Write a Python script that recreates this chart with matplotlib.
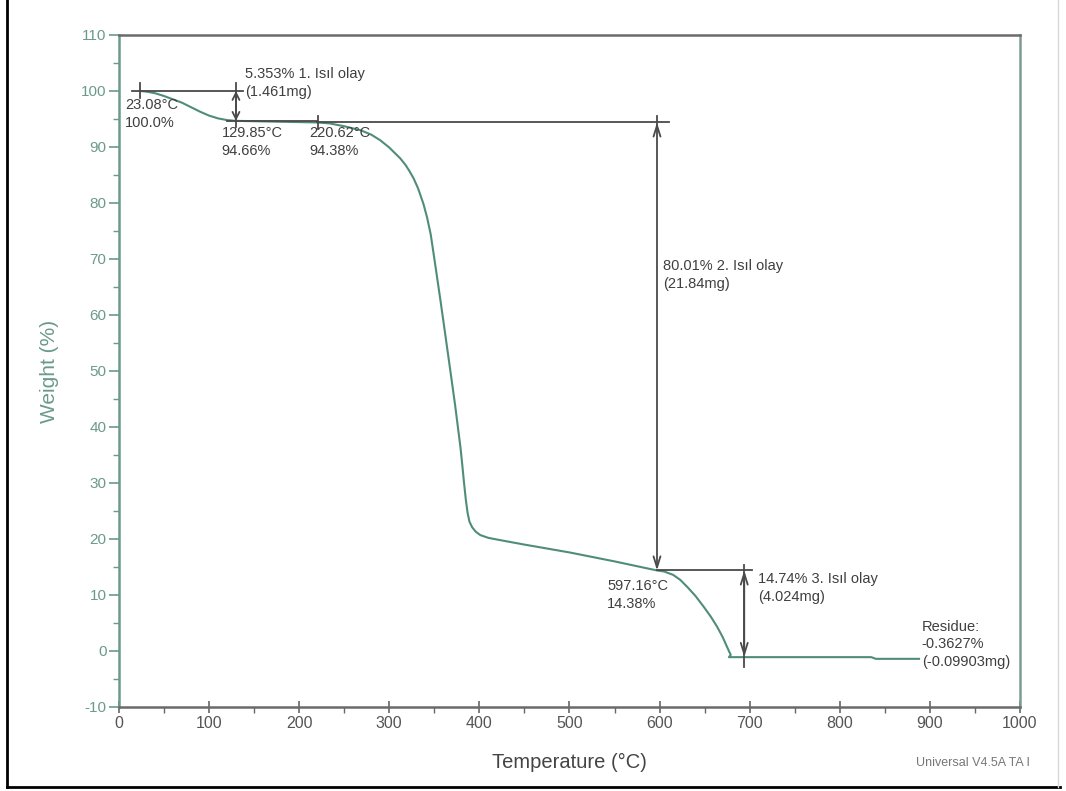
import matplotlib
matplotlib.use("Agg")
import matplotlib.pyplot as plt
from matplotlib.lines import Line2D
from matplotlib.ticker import MultipleLocator

plt.rcParams['font.family'] = ['Liberation Sans', 'DejaVu Sans']
plt.rcParams['axes.unicode_minus'] = False

# TGA curve (temperature in C, weight in %)
temp = [23.08, 30, 40, 50, 60, 70, 80, 90, 100, 110, 120, 129.85, 150, 180,
        220.62, 234, 250, 268, 280, 290, 300, 305, 312, 318, 322, 327, 332,
        338, 342, 346, 351, 357, 362, 368, 373, 379, 381, 383, 385, 387, 389,
        392, 396, 401, 410, 423, 450, 500, 550, 597.16, 605, 615, 623, 631,
        640, 649, 657, 664, 670, 675, 679, 677, 690, 760, 835, 840, 888]
weight = [100.0, 99.9, 99.6, 99.1, 98.5, 97.9, 97.1, 96.3, 95.6, 95.1, 94.8,
          94.66, 94.6, 94.5, 94.38, 94.2, 93.7, 93.0, 92.2, 91.2, 89.9, 89.1,
          88.0, 86.8, 85.8, 84.4, 82.6, 79.8, 77.4, 74.4, 69.0, 62.4, 56.7,
          49.8, 44.0, 36.4, 33.3, 30.0, 27.0, 24.6, 23.1, 22.1, 21.3, 20.7,
          20.2, 19.8, 19.0, 17.6, 16.0, 14.38, 14.2, 13.6, 12.7, 11.4, 9.8,
          7.9, 6.1, 4.3, 2.5, 0.7, -0.7, -1.1, -1.1, -1.1, -1.1, -1.4, -1.4]

# step analysis marks
onset_t = [23.08, 129.85, 220.62, 597.16]
onset_w = [100.0, 94.66, 94.38, 14.38]
residue_w = -1.07
step3_x = 694

labels_pt = ["23.08°C\n100.0%", "129.85°C\n94.66%", "220.62°C\n94.38%", "597.16°C\n14.38%"]
step_labels = ["5.353% 1. Isıl olay\n(1.461mg)",
               "80.01% 2. Isıl olay\n(21.84mg)",
               "14.74% 3. Isıl olay\n(4.024mg)"]
residue_label = "Residue:\n-0.3627%\n(-0.09903mg)"

curve_c = "#4f8d7a"
teal = "#6b9a8c"
mark_c = "#4a4a4a"
text_c = "#3f3f3f"

fig = plt.figure(figsize=(10.66, 7.91), dpi=100)
ax = fig.add_axes([0.1116, 0.1062, 0.8452, 0.8496])

ax.plot(temp, weight, color=curve_c, lw=1.5, zorder=3, solid_joinstyle='round')

ax.set_xlim(0, 1000)
ax.set_ylim(-10, 110)
ax.xaxis.set_major_locator(MultipleLocator(100))
ax.xaxis.set_minor_locator(MultipleLocator(50))
ax.yaxis.set_major_locator(MultipleLocator(10))
ax.yaxis.set_minor_locator(MultipleLocator(5))

ax.tick_params(axis='y', which='major', direction='out', length=7, width=1.2,
               color=teal, labelcolor=teal, labelsize=11, pad=2)
ax.tick_params(axis='y', which='minor', direction='out', length=4, width=1.0, color=teal)
ax.tick_params(axis='x', which='major', direction='inout', length=9, width=1.2,
               color="#666666", labelcolor="#555555", labelsize=11.5, pad=2)
ax.tick_params(axis='x', which='minor', direction='out', length=4, width=1.0, color="#666666")

for side in ['top', 'bottom', 'right']:
    ax.spines[side].set_color("#6a6a6a")
    ax.spines[side].set_linewidth(1.8)
ax.spines['left'].set_color(teal)
ax.spines['left'].set_linewidth(1.8)
ax.spines['right'].set_color("#7f9a92")

ax.set_xlabel("Temperature (°C)", fontsize=14.5, color="#444444", labelpad=16)
ax.set_ylabel("Weight (%)", fontsize=15, color=teal, labelpad=16)

lk = dict(color=mark_c, lw=1.3, zorder=4)

# step 1
ax.plot([14, 138], [onset_w[0], onset_w[0]], **lk)
ax.plot([onset_t[0], onset_t[0]], [98.8, 101.4], **lk)
ax.plot([onset_t[1], onset_t[1]], [93.6, 101.4], **lk)
ax.plot([120, 220], [onset_w[1], onset_w[1]], **lk)
ax.annotate("", xy=(onset_t[1], onset_w[1]), xytext=(onset_t[1], onset_w[0]),
            arrowprops=dict(arrowstyle="<->,head_length=0.5,head_width=0.25",
                            color=mark_c, lw=1.3, shrinkA=0, shrinkB=0), zorder=4)

# step 2
ax.plot([onset_t[2], onset_t[2]], [93.2, 95.6], **lk)
ax.plot([220, 610], [onset_w[2], onset_w[2]], **lk)
ax.plot([onset_t[3], onset_t[3]], [93.2, 95.6], **lk)
ax.annotate("", xy=(onset_t[3], onset_w[3]), xytext=(onset_t[3], onset_w[2]),
            arrowprops=dict(arrowstyle="<->,head_length=0.8,head_width=0.25",
                            color=mark_c, lw=1.3, shrinkA=0, shrinkB=0), zorder=4)

# step 3
ax.plot([onset_t[3], 703], [onset_w[3], onset_w[3]], **lk)
ax.plot([step3_x, step3_x], [-2.9, 15.4], **lk)
ax.annotate("", xy=(step3_x, residue_w), xytext=(step3_x, onset_w[3]),
            arrowprops=dict(arrowstyle="<->,head_length=0.8,head_width=0.25",
                            color=mark_c, lw=1.3, shrinkA=0, shrinkB=0), zorder=4)

tk = dict(fontsize=10.5, color=text_c, va='top', ha='left', linespacing=1.35, zorder=5)
pt_pos = [(7, 98.8), (114, 93.8), (211, 93.8), (542, 12.9)]
for (x, y), s in zip(pt_pos, labels_pt):
    ax.text(x, y, s, **tk)
step_pos = [(140, 104.2), (604, 70.0), (709, 14.1)]
for (x, y), s in zip(step_pos, step_labels):
    ax.text(x, y, s, **tk)
ax.text(891, 5.6, residue_label, **tk)

fig.text(0.859, 0.036, "Universal V4.5A TA I", fontsize=9, color="#777777",
         ha='left', va='center')

# outer frame
fig.add_artist(Line2D([0.0066, 0.0066], [0.005, 1.0], transform=fig.transFigure,
                      color="black", lw=2))
fig.add_artist(Line2D([0.0066, 0.994], [0.005, 0.005], transform=fig.transFigure,
                      color="black", lw=2))
fig.add_artist(Line2D([0.9925, 0.9925], [0.005, 1.0], transform=fig.transFigure,
                      color="#d8d8d8", lw=1))

fig.savefig("out.png", dpi=100)
